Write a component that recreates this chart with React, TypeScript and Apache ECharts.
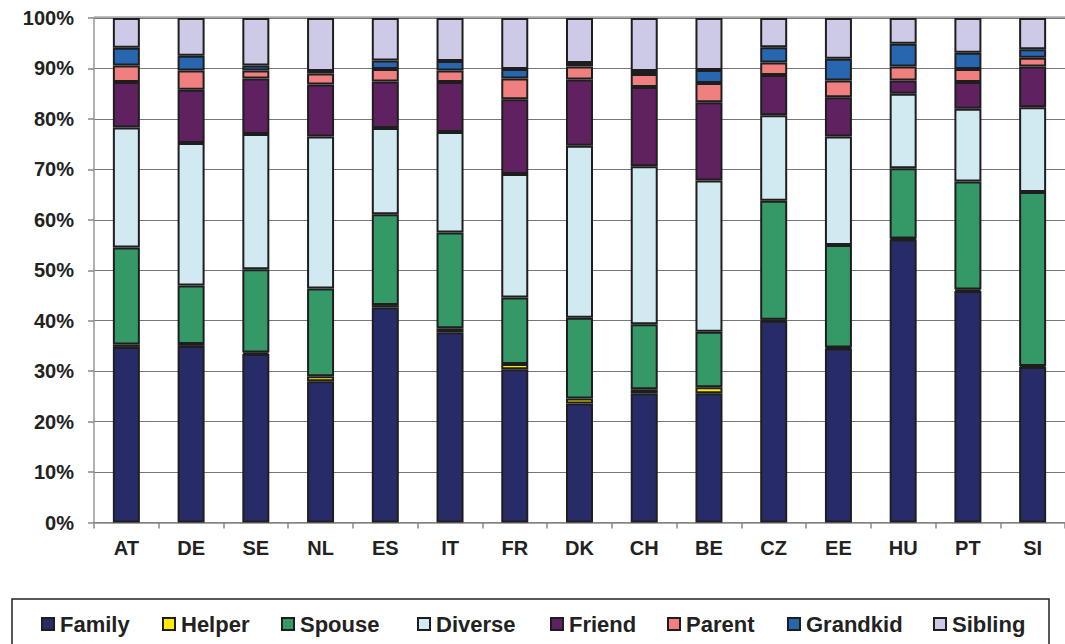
import React, { useEffect, useRef } from "react";
import * as echarts from "echarts";

const categories = ["AT", "DE", "SE", "NL", "ES", "IT", "FR", "DK", "CH", "BE", "CZ", "EE", "HU", "PT", "SI"];
const family = [34.8, 35.0, 33.4, 28.0, 42.6, 37.7, 30.4, 23.6, 25.6, 25.6, 40.0, 34.5, 56.1, 45.9, 30.8];
const helper = [0.5, 0.4, 0.3, 1.0, 0.5, 0.8, 1.0, 1.0, 0.8, 1.2, 0.2, 0.2, 0.2, 0.3, 0.2];
const spouse = [19.2, 11.6, 16.5, 17.4, 18.0, 19.0, 13.2, 16.0, 12.9, 11.0, 23.6, 20.3, 13.9, 21.4, 34.5];
const diverse = [23.8, 28.2, 26.8, 30.1, 17.1, 19.9, 24.5, 34.1, 31.3, 30.0, 16.9, 21.5, 14.8, 14.4, 16.8];
const friend = [9.0, 10.6, 11.0, 10.3, 9.2, 9.9, 14.8, 13.1, 15.7, 15.5, 8.0, 7.8, 2.6, 5.3, 8.1];
const parent = [3.3, 3.8, 1.6, 2.2, 2.5, 2.3, 4.1, 2.6, 2.6, 3.8, 2.5, 3.3, 2.8, 2.6, 1.7];
const grandkid = [3.5, 2.9, 1.0, 0.5, 1.7, 1.9, 1.9, 0.7, 0.6, 2.6, 3.0, 4.3, 4.5, 3.2, 1.7];
const sibling = [5.9, 7.5, 9.4, 10.5, 8.4, 8.5, 10.1, 8.9, 10.5, 10.3, 5.8, 8.1, 5.1, 6.9, 6.2];

const seriesNames = ["Family", "Helper", "Spouse", "Diverse", "Friend", "Parent", "Grandkid", "Sibling"];
const seriesData = [family, helper, spouse, diverse, friend, parent, grandkid, sibling];
const seriesColors = ["#272c69", "#ffed00", "#349966", "#d1e9f0", "#5f2160", "#f08080", "#2966b0", "#cccae6"];
const legendLefts = [41, 162, 281, 417, 550, 667, 787, 933];

export default function App() {
  const ref = useRef<HTMLDivElement>(null);
  useEffect(() => {
    if (!ref.current) return;
    const chart = echarts.init(ref.current, undefined, { renderer: "svg" });
    const font = "'Liberation Sans', Arial, sans-serif";
    chart.setOption({
      animation: false,
      backgroundColor: "#ffffff",
      grid: { left: 94, top: 18, width: 976, height: 504.5, containLabel: false },
      xAxis: {
        type: "category",
        data: categories,
        axisLine: { show: true, lineStyle: { color: "#888", width: 1.5 } },
        axisTick: { show: true, length: 6, interval: 0, lineStyle: { color: "#888", width: 1.5 } },
        axisLabel: { fontFamily: font, fontWeight: "bold", fontSize: 20, color: "#222", margin: 15, interval: 0 },
        splitLine: { show: false },
      },
      yAxis: {
        type: "value",
        min: 0,
        max: 100,
        interval: 10,
        axisLine: { show: true, lineStyle: { color: "#999", width: 1.5 } },
        axisTick: { show: true, length: 6, lineStyle: { color: "#888", width: 1.5 } },
        axisLabel: { fontFamily: font, fontWeight: "bold", fontSize: 20, color: "#222", margin: 20, formatter: "{value}%" },
        splitLine: { show: true, lineStyle: { color: "#777", width: 1 } },
      },
      legend: seriesNames.map((n, i) => ({
        data: [n],
        left: legendLefts[i],
        top: 613,
        itemWidth: 12,
        itemHeight: 12,
        selectedMode: false,
        icon: "rect",
        padding: 0,
        textStyle: { fontFamily: font, fontWeight: "bold", fontSize: 22, color: "#222", padding: [0, 0, 0, 1] },
      })),
      graphic: [
        {
          type: "line",
          z: 0,
          shape: { x1: 94, y1: 17.5, x2: 1065, y2: 17.5 },
          style: { stroke: "#aaa", lineWidth: 2.5 },
        },
        {
          type: "rect",
          shape: { x: 12, y: 599, width: 1037, height: 60 },
          style: { fill: "none", stroke: "#222", lineWidth: 1.5 },
        },
      ],
      series: seriesNames.map((n, i) => ({
        name: n,
        type: "bar",
        stack: "total",
        barWidth: 27,
        data: seriesData[i],
        itemStyle: { color: seriesColors[i], borderColor: "#1e1e1e", borderWidth: 2 },
        emphasis: { disabled: true },
      })),
    });
    return () => chart.dispose();
  }, []);
  return <div ref={ref} style={{ position: "absolute", left: 0, top: 0, width: 1065, height: 644 }} />;
}
